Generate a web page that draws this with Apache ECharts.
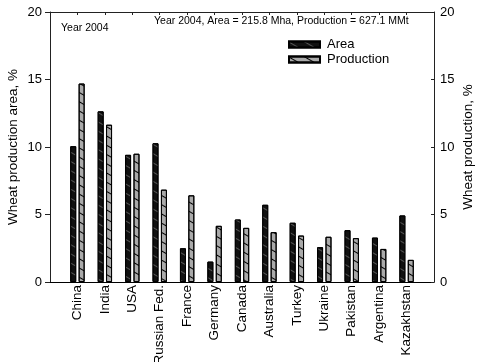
<!DOCTYPE html>
<html><head><meta charset="utf-8">
<script src="https://cdn.jsdelivr.net/npm/echarts@6/dist/echarts.min.js"></script>
<style>html,body{margin:0;padding:0;background:#fff}#c{width:477px;height:362px}</style>
</head><body><div id="c"></div>
<script>
const countries = ['China','India','USA','Russian Fed.','France','Germany','Canada','Australia','Turkey','Ukraine','Pakistan','Argentina','Kazakhstan'];
const areaPct = [10.06, 12.64, 9.42, 10.28, 2.50, 1.51, 4.63, 5.72, 4.39, 2.58, 3.84, 3.29, 4.93];
const prodPct = [14.70, 11.65, 9.50, 6.84, 6.42, 4.16, 4.01, 3.69, 3.44, 3.35, 3.25, 2.45, 1.64];
const yTicks = [0, 5, 10, 15, 20];

const FONT = 'Liberation Sans, Arial, sans-serif';
const cats = [''].concat(countries, ['']);
const pad = a => [null].concat(a, [null]);

const chart = echarts.init(document.getElementById('c'), null, {renderer: 'canvas'});
const axisLineStyle = {color: '#222', width: 1};
chart.setOption({
  animation: false,
  backgroundColor: '#fff',
  grid: {left: 50, right: 43, top: 12, bottom: 80, containLabel: false, outerBoundsMode: 'none'},
  legend: {
    orient: 'vertical', left: 288, top: 38, itemWidth: 31, itemHeight: 6, itemGap: 2,
    icon: 'rect', padding: 0,
    textStyle: {fontFamily: FONT, fontSize: 13, color: '#000', padding: [0, 0, 0, 2]},
    data: ['Area', 'Production']
  },
  xAxis: [{
    type: 'category', data: cats, boundaryGap: false, position: 'bottom',
    axisLine: {onZero: false, lineStyle: {color: '#000', width: 1.2}}, axisTick: {show: false},
    axisLabel: {rotate: 90, interval: 0, margin: 3, fontFamily: FONT, fontSize: 13.5, color: '#000'},
    splitLine: {show: false}
  }, {
    type: 'category', data: cats, boundaryGap: false, position: 'top',
    axisLine: {onZero: false, lineStyle: axisLineStyle},
    axisTick: {show: true, inside: true, length: 3, interval: 0, lineStyle: axisLineStyle},
    axisLabel: {show: false}, splitLine: {show: false}
  }],
  yAxis: [{
    type: 'value', min: yTicks[0], max: yTicks[yTicks.length - 1], interval: 5, position: 'left',
    name: 'Wheat production area, %', nameLocation: 'middle', nameGap: 30, nameRotate: 90,
    nameMoveOverlap: false,
    nameTextStyle: {fontFamily: FONT, fontSize: 13.5, color: '#000'},
    axisLine: {show: true, onZero: false, lineStyle: axisLineStyle},
    axisTick: {show: true, inside: false, length: 5, lineStyle: axisLineStyle},
    axisLabel: {margin: 8, fontFamily: FONT, fontSize: 13, color: '#000'},
    splitLine: {show: false}
  }, {
    type: 'value', min: yTicks[0], max: yTicks[yTicks.length - 1], interval: 5, position: 'right',
    name: 'Wheat production, %', nameLocation: 'middle', nameGap: 27, nameRotate: 90,
    nameMoveOverlap: false,
    nameTextStyle: {fontFamily: FONT, fontSize: 13.5, color: '#000'},
    axisLine: {show: true, onZero: false, lineStyle: axisLineStyle},
    axisTick: {show: true, inside: true, length: 3, lineStyle: axisLineStyle},
    axisLabel: {margin: 6, fontFamily: FONT, fontSize: 13, color: '#000'},
    splitLine: {show: false}
  }],
  series: [{
    name: 'Area', type: 'bar', xAxisIndex: 0, yAxisIndex: 0, data: pad(areaPct),
    barWidth: 6, barGap: '40%',
    itemStyle: {color: '#111', borderColor: '#000', borderWidth: 1,
      decal: {symbol: 'rect', color: '#555', dashArrayX: [1, 0], dashArrayY: [1, 6.5], rotation: Math.PI / 6}}
  }, {
    name: 'Production', type: 'bar', xAxisIndex: 0, yAxisIndex: 1, data: pad(prodPct),
    barWidth: 6, barGap: '40%',
    itemStyle: {color: '#aaa', borderColor: '#000', borderWidth: 1,
      decal: {symbol: 'rect', color: '#000', dashArrayX: [1, 0], dashArrayY: [1, 6.5], rotation: Math.PI / 6}}
  }],
  graphic: [{
    type: 'text', left: 61, top: 23,
    style: {text: 'Year 2004', font: '10.5px ' + FONT, fill: '#000'}
  }, {
    type: 'text', left: 154, top: 16,
    style: {text: 'Year 2004, Area = 215.8 Mha, Production = 627.1 MMt', font: '10.5px ' + FONT, fill: '#000'}
  }]
});
</script></body></html>
